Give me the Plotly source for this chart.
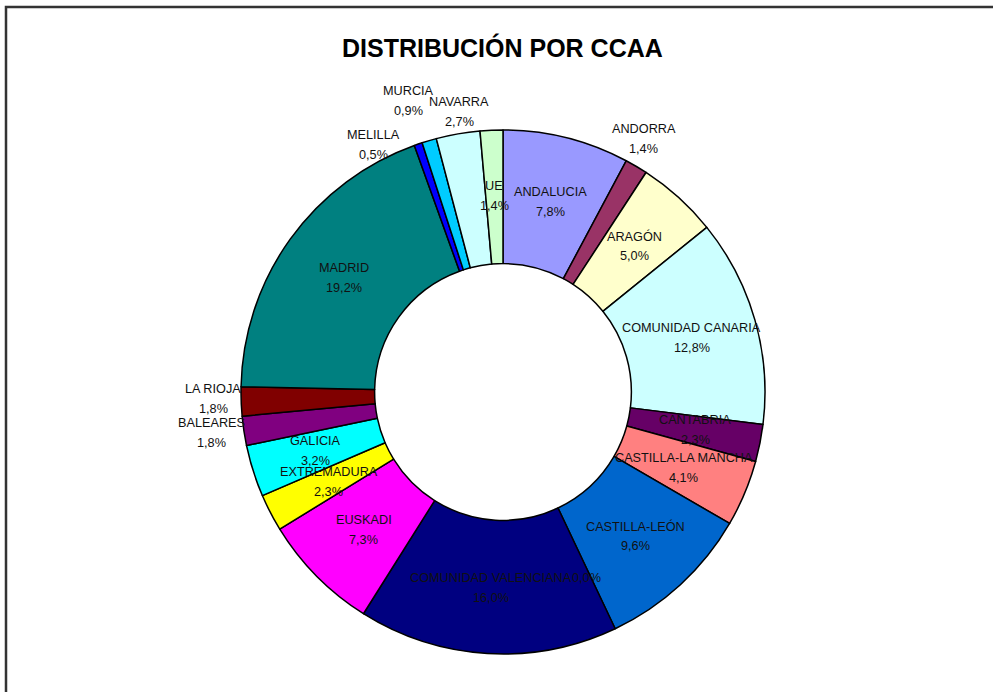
import math
import plotly.graph_objects as go

categories = ["ANDALUCIA", "ANDORRA", "ARAGÓN", "COMUNIDAD CANARIA", "CANTABRIA",
              "CASTILLA-LA MANCHA", "CASTILLA-LEÓN", "COMUNIDAD VALENCIANA", "EUSKADI",
              "EXTREMADURA", "GALICIA", "BALEARES", "LA RIOJA", "MADRID", "MELILLA",
              "MURCIA", "NAVARRA", "UE"]
values = [7.8, 1.4, 5.0, 12.8, 2.3, 4.1, 9.6, 16.0, 7.3, 2.3, 3.2, 1.8, 1.8, 19.2, 0.5, 0.9, 2.7, 1.4]
colors = ["#9999FF", "#993366", "#FFFFCC", "#CCFFFF", "#660066", "#FF8080", "#0066CC",
          "#000080", "#FF00FF", "#FFFF00", "#00FFFF", "#800080", "#800000", "#008080",
          "#0000FF", "#00CCFF", "#CCFFFF", "#CCFFCC"]
outside = {"ANDORRA", "MURCIA", "NAVARRA", "MELILLA", "LA RIOJA", "BALEARES"}
# label layout tweaks (angle nudge in degrees, radius in px) for crowded outside labels
label_nudge = {"MURCIA": (-1.7, 306), "MELILLA": (-8.8, 279), "LA RIOJA": (0.6, 290),
               "BALEARES": (0.5, 294), "ANDORRA": (-1.5, 290), "NAVARRA": (1.0, 283)}
title = "DISTRIBUCIÓN POR CCAA"

W, H = 993, 692
cx, cy, R = 503, 392, 262
hole = 0.49

fig = go.Figure(go.Pie(
    labels=categories, values=values, sort=False, direction="clockwise", rotation=0,
    hole=hole, marker=dict(colors=colors, line=dict(color="#000000", width=1.5)),
    textinfo="none", hoverinfo="skip", showlegend=False,
    domain=dict(x=[(cx - R) / W, (cx + R) / W], y=[(H - cy - R) / H, (H - cy + R) / H]),
))

FONT = "Liberation Sans, Arial, sans-serif"
annotations = []
total = sum(values)
cum = 0.0
for name, v in zip(categories, values):
    mid = (cum + v / 2) / total * 360.0
    cum += v
    if name in outside:
        da, r = label_nudge.get(name, (0, 290))
        ang = math.radians(mid + da)
    else:
        r = R * (1 + hole) / 2 + 1
        ang = math.radians(mid)
    px = cx + r * math.sin(ang)
    py = cy - r * math.cos(ang)
    xp, yp = px / W, 1 - py / H
    pct = f"{v:.1f}".replace(".", ",") + "%"
    for txt, ys in ((name, 10), (pct, -10)):
        annotations.append(dict(x=xp, y=yp, xref="paper", yref="paper", text=txt,
                                showarrow=False, yshift=ys, xanchor="center", yanchor="middle",
                                font=dict(family=FONT, size=12.7, color="#111111")))
    if name == "COMUNIDAD VALENCIANA":
        annotations.append(dict(x=xp, y=yp, xref="paper", yref="paper", text="0,0%",
                                showarrow=False, yshift=10, xshift=79, xanchor="left", yanchor="middle",
                                font=dict(family=FONT, size=12.7, color="#111111")))

annotations.append(dict(x=cx / W, y=1 - 47 / H, xref="paper", yref="paper", text="<b>" + title + "</b>",
                        showarrow=False, xanchor="center", yanchor="middle",
                        font=dict(family=FONT, size=25, color="#000000")))

fig.update_layout(
    width=W, height=H, margin=dict(l=0, r=0, t=0, b=0),
    paper_bgcolor="white", plot_bgcolor="white",
    annotations=annotations,
    shapes=[dict(type="rect", xref="paper", yref="paper", x0=6 / W, x1=1.02, y0=-0.02, y1=1 - 7 / H,
                 line=dict(color="#333333", width=2.5), fillcolor="rgba(0,0,0,0)")],
)
fig.write_html("out.html", config={"displayModeBar": False},
               post_script="document.body.style.margin='0';document.body.style.overflow='hidden';")
